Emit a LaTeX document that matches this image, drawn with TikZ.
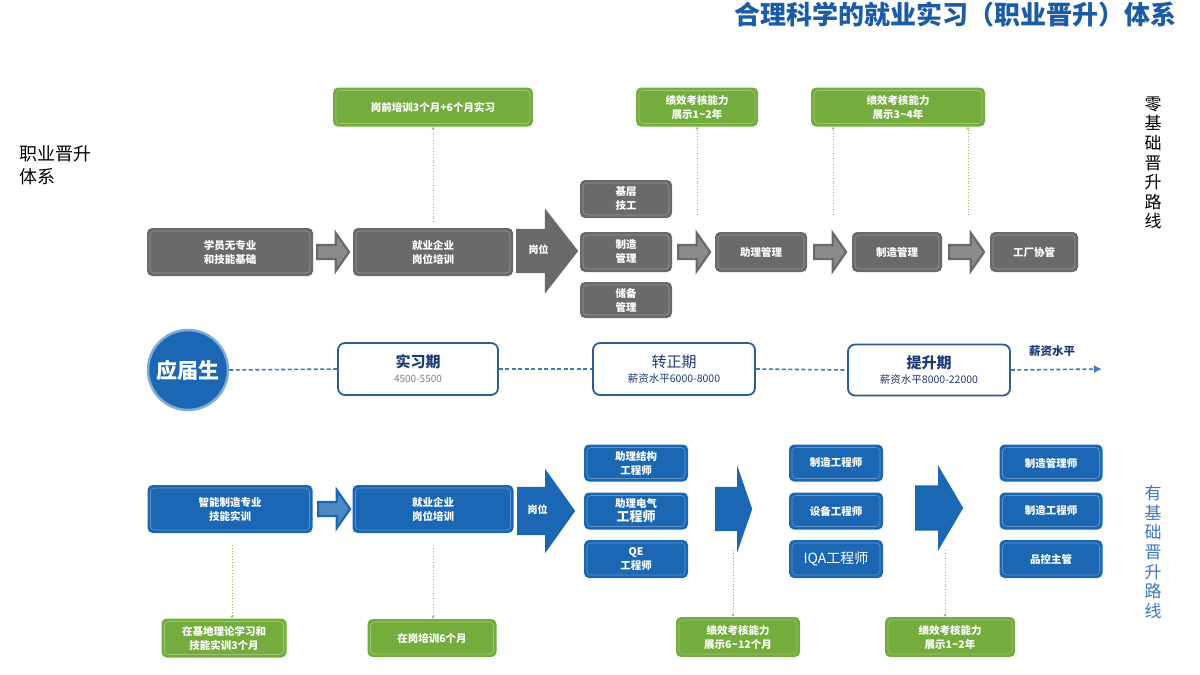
\documentclass[tikz,border=0pt]{standalone}
\usepackage{fontspec}
\setmainfont{Noto Sans CJK SC}
\usepackage{tikz}
\usetikzlibrary{arrows.meta,shapes.arrows,calc}
\definecolor{boxgray}{HTML}{6A6A6A}
\definecolor{boxblue}{HTML}{1B67B4}
\definecolor{boxgreen}{HTML}{74AC3E}
\definecolor{titleblue}{HTML}{1C5CA6}
\definecolor{stageblue}{HTML}{2B5E95}
\definecolor{navy}{HTML}{1E3A78}
\definecolor{dotblue}{HTML}{3E78BE}
\definecolor{linkgreen}{HTML}{8DBE5C}
\tikzset{
rbox/.style={rounded corners=5pt, align=center, inner sep=0pt, text=white,
  font=\bfseries\fontsize{10.5}{14}\selectfont,
  path picture={\draw[#1, line width=.6pt, rounded corners=4pt]
    ([shift={(3pt,-3pt)}]path picture bounding box.north west) rectangle
    ([shift={(-3pt,3pt)}]path picture bounding box.south east);}},
graybox/.style={rbox=white!30!boxgray, fill=boxgray},
bluebox/.style={rbox=white!30!boxblue, fill=boxblue},
greenbox/.style={rbox=white!30!boxgreen, fill=boxgreen},
stage/.style={draw=stageblue, line width=1.8pt, rounded corners=7pt, fill=white,
  minimum width=160pt, minimum height=52pt, align=center, inner sep=0pt},
hollowarrow/.style={single arrow, draw=#1, line width=2.2pt, fill=white!22!#1,
  inner sep=6pt, minimum height=32pt, single arrow head extend=12pt,
  single arrow tip angle=110, anchor=tail},
bigarrow/.style={single arrow, fill=#1, text=white, anchor=tail,
  font=\bfseries\fontsize{10}{11}\selectfont, text height=7pt, text depth=2pt,
  inner xsep=3pt},
greenlink/.style={linkgreen, line width=.8pt, dotted, -{Stealth[length=3pt,width=3pt]}},
midline/.style={dotblue, line width=1.6pt, dash pattern=on 4pt off 2.5pt}
}
\begin{document}
\begin{tikzpicture}[x=1pt,y=-1pt]
\useasboundingbox (0,0) rectangle (1200,675);

\node[anchor=east, text=titleblue, font=\bfseries\fontsize{26}{28}\selectfont] (title) at (1180,15) {合理科学的就业实习（职业晋升）体系};
\node[anchor=north west, align=left, font=\fontsize{18}{23}\selectfont] (system) at (16,142) {职业晋升\\体系};
\node[align=center, font=\fontsize{17}{19.6}\selectfont] (zeroroute) at (1153,163) {零\\基\\础\\晋\\升\\路\\线};
\node[align=center, text=dotblue, font=\fontsize{17}{19.6}\selectfont] (baseroute) at (1153,552) {有\\基\\础\\晋\\升\\路\\线};

\node[graybox, minimum width=166pt, minimum height=48pt] (g1) at (230,252) {学员无专业\\和技能基础};
\node[hollowarrow=boxgray] (ha1) at (316,252) {};
\node[graybox, minimum width=160pt, minimum height=48pt] (g2) at (433,252) {就业企业\\岗位培训};
\node[bigarrow=boxgray, inner ysep=17.5pt, minimum height=62pt, single arrow head extend=20.5pt, single arrow tip angle=104] (post1) at (516,251) {岗位};
\node[graybox, minimum width=92pt, minimum height=38pt] (s1) at (626,199) {基层\\技工};
\node[graybox, minimum width=92pt, minimum height=40pt] (s2) at (626,252) {制造\\管理};
\node[graybox, minimum width=92pt, minimum height=36pt] (s3) at (626,300) {储备\\管理};
\node[hollowarrow=boxgray] (ha2) at (677,252) {};
\node[graybox, minimum width=92pt, minimum height=40pt] (g3) at (761,252) {助理管理};
\node[hollowarrow=boxgray] (ha3) at (813,252) {};
\node[graybox, minimum width=90pt, minimum height=40pt] (g4) at (897,252) {制造管理};
\node[hollowarrow=boxgray, minimum height=35pt] (ha4) at (948,252) {};
\node[graybox, minimum width=88pt, minimum height=40pt] (g5) at (1034,252) {工厂协管};

\node[greenbox, minimum width=200pt, minimum height=39pt] (tg1) at (433,107) {岗前培训3个月+6个月实习};
\node[greenbox, minimum width=122pt, minimum height=39pt] (tg2) at (697,107) {绩效考核能力\\展示1\textasciitilde2年};
\node[greenbox, minimum width=174pt, minimum height=39pt] (tg3) at (898,107) {绩效考核能力\\展示3\textasciitilde4年};
\coordinate (up1) at (433,222);
\coordinate (up2) at (697,215);
\coordinate (up3) at (833,215);
\coordinate (up4) at (968,215);
\draw[greenlink] (up1) -- (tg1.south);
\draw[greenlink] (up2) -- (tg2.south);
\draw[greenlink] (up3) -- (up3 |- tg3.south);
\draw[greenlink] (up4) -- (up4 |- tg3.south);

\node[circle, fill=boxblue, draw=white!45!boxblue, line width=2.5pt, minimum size=80pt, inner sep=0pt, text=white, font=\bfseries\fontsize{21}{24}\selectfont] (grad) at (188,370) {应届生};
\node[stage] (st1) at (418,369) {{\bfseries\fontsize{15}{17}\selectfont\color{navy}实习期}\\[3pt]{\fontsize{10}{12}\selectfont\color{gray}4500-5500}};
\node[stage, minimum width=162pt] (st2) at (674,369) {{\fontsize{15}{17}\selectfont\color{navy}转正期}\\[3pt]{\fontsize{10.5}{12}\selectfont\color{navy}薪资水平6000-8000}};
\node[stage, minimum width=162pt, minimum height=51pt] (st3) at (929,370) {{\bfseries\fontsize{15}{17}\selectfont\color{navy}提升期}\\[3pt]{\fontsize{10.5}{12}\selectfont\color{navy}薪资水平8000-22000}};
\coordinate (salend) at (1102,369);
\node[text=navy, font=\bfseries\fontsize{11.5}{13}\selectfont] (salary) at (1052,351) {薪资水平};
\draw[midline] (grad.east) -- (st1.west);
\draw[midline] (st1.east) -- (st2.west);
\draw[midline] (st2.east) -- (st3.west);
\draw[midline, -{Latex[length=8pt,width=8pt]}] (st3.east) -- (salend);

\node[bluebox, minimum width=165pt, minimum height=48pt] (b1) at (230,509) {智能制造专业\\技能实训};
\node[hollowarrow=boxblue] (ha5) at (317,509) {};
\node[bluebox, minimum width=161pt, minimum height=48pt] (b2) at (433,509) {就业企业\\岗位培训};
\node[bigarrow=boxblue, inner ysep=19.5pt, minimum height=58pt, single arrow head extend=18pt, single arrow tip angle=109] (post2) at (517,511) {岗位};
\node[bluebox, minimum width=104pt, minimum height=37pt] (c11) at (636,463) {助理结构\\工程师};
\node[bluebox, minimum width=104pt, minimum height=37pt] (c12) at (636,511) {助理电气\\{\fontsize{13}{15}\selectfont 工程师}};
\node[bluebox, minimum width=104pt, minimum height=38pt] (c13) at (636,559) {QE\\工程师};
\node[bigarrow=boxblue, inner ysep=22pt, text height=0pt, text depth=0pt, minimum height=37pt, single arrow head extend=21.5pt, single arrow tip angle=142] (step1) at (715,509) {};
\node[bluebox, minimum width=94pt, minimum height=37pt] (c21) at (836,463) {制造工程师};
\node[bluebox, minimum width=94pt, minimum height=37pt] (c22) at (836,511) {设备工程师};
\node[bluebox, minimum width=94pt, minimum height=38pt, font=\fontsize{14}{16}\selectfont] (c23) at (836,559) {IQA工程师};
\node[bigarrow=boxblue, inner ysep=22.5pt, text height=0pt, text depth=0pt, minimum height=48pt, single arrow head extend=20pt, single arrow tip angle=119] (step2) at (915,508) {};
\node[bluebox, minimum width=103pt, minimum height=37pt] (c31) at (1051,463) {制造管理师};
\node[bluebox, minimum width=103pt, minimum height=37pt] (c32) at (1051,511) {制造工程师};
\node[bluebox, minimum width=103pt, minimum height=38pt] (c33) at (1051,559) {品控主管};

\node[greenbox, minimum width=125pt, minimum height=39pt] (bg1) at (224,638) {在基地理论学习和\\技能实训3个月};
\node[greenbox, minimum width=129pt, minimum height=38pt] (bg2) at (432,638) {在岗培训6个月};
\node[greenbox, minimum width=124pt, minimum height=40pt] (bg3) at (738,637) {绩效考核能力\\展示6\textasciitilde12个月};
\node[greenbox, minimum width=130pt, minimum height=40pt] (bg4) at (950,637) {绩效考核能力\\展示1\textasciitilde2年};
\coordinate (down1) at (232,545);
\coordinate (down2) at (433,545);
\coordinate (down3) at (733,550);
\coordinate (down4) at (945,550);
\draw[greenlink] (down1) -- (down1 |- bg1.north);
\draw[greenlink] (down2) -- (down2 |- bg2.north);
\draw[greenlink] (down3) -- (down3 |- bg3.north);
\draw[greenlink] (down4) -- (down4 |- bg4.north);
\end{tikzpicture}
\end{document}
